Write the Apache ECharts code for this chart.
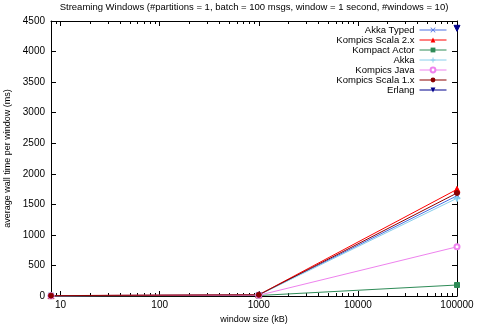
<!DOCTYPE html>
<html><head><meta charset="utf-8">
<script src="https://cdn.jsdelivr.net/npm/echarts@6/dist/echarts.min.js"></script>
<style>html,body{margin:0;padding:0;background:#fff}#c{width:480px;height:325px}</style>
</head><body><div id="c"></div>
<script>
const titleText = 'Streaming Windows (#partitions = 1, batch = 100 msgs, window = 1 second, #windows = 10)';
const xLabel = 'window size (kB)';
const yLabel = 'average wall time per window (ms)';
const windowSizes = [8, 1000, 100000];
const xMajorTicks = [10, 100, 1000, 10000, 100000];
const xMinorTicks = [9, 20, 30, 40, 50, 60, 70, 80, 90, 200, 300, 400, 500, 600, 700, 800, 900, 2000, 3000, 4000, 5000, 6000, 7000, 8000, 9000, 20000, 30000, 40000, 50000, 60000, 70000, 80000, 90000];
const akkaTyped = [5, 18, 1640];
const kompicsScala2 = [6, 20, 1745];
const kompactActor = [3, 8, 180];
const akka = [5, 17, 1600];
const kompicsJava = [4, 12, 805];
const kompicsScala1 = [6, 19, 1685];
const erlangSizes = [100000];
const erlang = [4380];

function pairs(xs, ys){ return xs.map((x,i)=>[x, ys[i]]); }
function mk(name, color, ys, symbol, extra, xs){
  return Object.assign({
    name, type:'line', data: pairs(xs||windowSizes, ys),
    symbol, symbolSize: 6, showSymbol: true, clip:false,
    lineStyle:{color, width:1}, itemStyle:{color, borderColor: color},
    animation:false, z: 3
  }, extra||{});
}
const series = [
  mk('Akka Typed', '#4a6fe3', akkaTyped, 'path://M0,0L1,0L10,9L10,10L9,10L0,1Z M9,0L10,0L10,1L1,10L0,10L0,9Z', {symbolSize:5}),
  mk('Kompics Scala 2.x', '#ff0000', kompicsScala2, 'triangle', {symbolSize:6}),
  mk('Kompact Actor', '#2e8b57', kompactActor, 'rect', {symbolSize:5}),
  mk('Akka', '#87ceeb', akka, 'path://M4,0L6,0L6,4L10,4L10,6L6,6L6,10L4,10L4,6L0,6L0,4L4,4Z', {symbolSize:6}),
  mk('Kompics Java', '#ee82ee', kompicsJava, 'emptyCircle', {symbolSize:5}),
  mk('Kompics Scala 1.x', '#8b0000', kompicsScala1, 'circle', {symbolSize:5}),
  mk('Erlang', '#00008b', erlang, 'triangle', {symbolSize:6, symbolRotate:180}, erlangSizes)
];

const FF = 'Liberation Sans, Arial, sans-serif';
const tickFont = {fontFamily:FF, fontSize:10, color:'#000'};
const nameFont = {fontFamily:FF, fontSize:9, color:'#000'};
const baseX = {type:'log', min:8, max:100000, logBase:10, splitLine:{show:false}};
const chart = echarts.init(document.getElementById('c'), null, {renderer:'canvas'});
chart.setOption({
  animation:false,
  backgroundColor:'#fff',
  title:{text:titleText, left:254, top:2, padding:0, textAlign:'center',
    textStyle:{fontFamily:FF, fontSize:9.5, fontWeight:'normal', color:'#000'}},
  grid:{left:51, right:23, top:21, bottom:29, containLabel:false, outerBoundsMode:'none'},
  legend:{orient:'vertical', right:33, top:25, align:'right', itemWidth:27, itemHeight:6, itemGap:0, padding:0,
    lineStyle:{width:1},
    textStyle:{fontFamily:FF, fontSize:9.5, lineHeight:9.1, color:'#000'},
    data: series.map(s=>s.name)},
  xAxis:[
    Object.assign({}, baseX, {position:'bottom', name:xLabel, nameLocation:'middle', nameGap:16, nameTextStyle:nameFont,
      axisLine:{show:true, lineStyle:{color:'#000', width:1}},
      axisTick:{show:true, inside:true, length:5, customValues:xMajorTicks, lineStyle:{color:'#000'}},
      axisLabel:Object.assign({show:true, margin:4, customValues:xMajorTicks, formatter:v=>String(v)}, tickFont)}),
    Object.assign({}, baseX, {position:'bottom',
      axisLine:{show:false}, axisLabel:{show:false},
      axisTick:{show:true, inside:true, length:3, customValues:xMinorTicks, lineStyle:{color:'#000'}}}),
    Object.assign({}, baseX, {position:'top',
      axisLine:{show:true, lineStyle:{color:'#000', width:1}}, axisLabel:{show:false},
      axisTick:{show:true, inside:true, length:5, customValues:xMajorTicks, lineStyle:{color:'#000'}}}),
    Object.assign({}, baseX, {position:'top',
      axisLine:{show:false}, axisLabel:{show:false},
      axisTick:{show:true, inside:true, length:3, customValues:xMinorTicks, lineStyle:{color:'#000'}}})
  ],
  yAxis:[
    {type:'value', min:0, max:4500, interval:500, position:'left',
      name:yLabel, nameLocation:'middle', nameGap:34, nameTextStyle:nameFont,
      axisLine:{show:true, lineStyle:{color:'#000', width:1}},
      axisTick:{show:true, inside:true, length:5, lineStyle:{color:'#000'}},
      axisLabel:Object.assign({margin:6, formatter:v=>String(v)}, tickFont), splitLine:{show:false}},
    {type:'value', min:0, max:4500, interval:500, position:'right',
      axisLine:{show:true, lineStyle:{color:'#000', width:1}},
      axisTick:{show:true, inside:true, length:5, lineStyle:{color:'#000'}},
      axisLabel:{show:false}, splitLine:{show:false}}
  ],
  series: series
});
</script></body></html>
